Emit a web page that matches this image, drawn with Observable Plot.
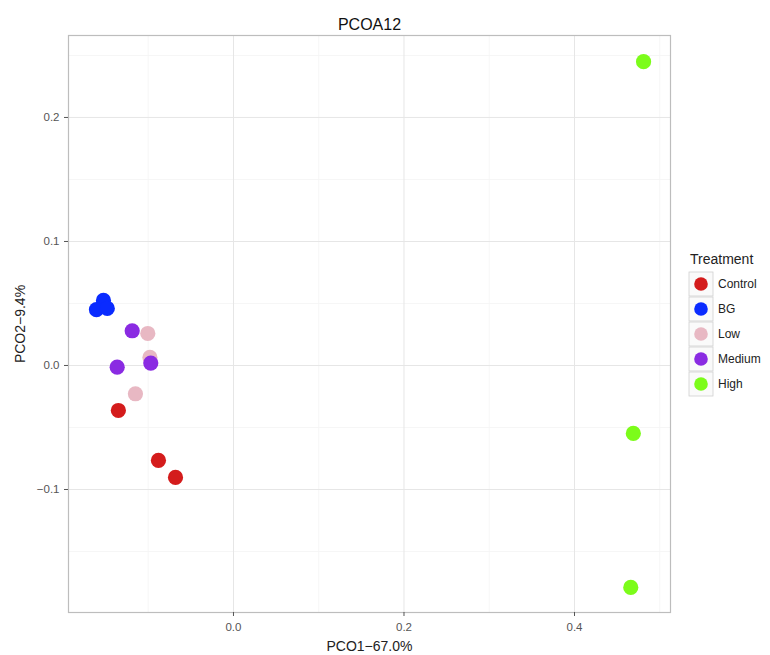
<!DOCTYPE html>
<html>
<head>
<meta charset="utf-8">
<script src="https://cdn.jsdelivr.net/npm/d3@7"></script>
<script src="https://cdn.jsdelivr.net/npm/@observablehq/plot@0.6"></script>
<style>
  html, body { margin: 0; padding: 0; background: #fff; }
  #chart { width: 770px; height: 655px; }
</style>
</head>
<body>
<div id="chart"></div>
<script>
// ---- data ----
const groups = ["Control", "BG", "Low", "Medium", "High"];
const groupColors = ["#d41c1c", "#0a2bff", "#e8b8c3", "#8a2be2", "#7cfc1a"];
const pointGroup = ["Control","Control","Control","BG","BG","BG","Low","Low","Low","Medium","Medium","Medium","High","High","High"];
const pco1 = [-0.135, -0.088, -0.068, -0.1525, -0.1607, -0.148, -0.1005, -0.115, -0.098, -0.1188, -0.1364, -0.097, 0.481, 0.469, 0.466];
const pco2 = [-0.0363, -0.0766, -0.0903, 0.0525, 0.045, 0.046, 0.0258, -0.0228, 0.0065, 0.028, -0.0014, 0.0019, 0.245, -0.0548, -0.179];
const xMajor = [0, 0.2, 0.4];
const xMinor = [-0.1, 0.1, 0.3, 0.5];
const yMajor = [-0.1, 0, 0.1, 0.2];
const yMinor = [-0.15, -0.05, 0.05, 0.15, 0.25];
const titleText = "PCOA12";
const xLabel = "PCO1\u221267.0%";
const yLabel = "PCO2\u22129.4%";
const legendTitle = "Treatment";

const points = pco1.map((x, i) => ({x, y: pco2[i], group: pointGroup[i]}));
const font = "'Liberation Sans', Arial, Helvetica, sans-serif";

const plot = Plot.plot({
  width: 770,
  height: 655,
  marginLeft: 68,
  marginRight: 100,
  marginTop: 35,
  marginBottom: 43,
  style: {fontFamily: font, background: "#fff"},
  x: {domain: [-0.1935, 0.5126], inset: 0},
  y: {domain: [-0.1992, 0.2661], inset: 0},
  color: {domain: groups, range: groupColors},
  marks: [
    Plot.gridX(xMinor, {stroke: "#f4f4f4", strokeOpacity: 1, strokeWidth: 0.8}),
    Plot.gridY(yMinor, {stroke: "#f4f4f4", strokeOpacity: 1, strokeWidth: 0.8}),
    Plot.gridX(xMajor, {stroke: "#e6e6e6", strokeOpacity: 1, strokeWidth: 1}),
    Plot.gridY(yMajor, {stroke: "#e6e6e6", strokeOpacity: 1, strokeWidth: 1}),
    Plot.frame({stroke: "#bdbdbd", strokeWidth: 1.2}),
    Plot.axisX({ticks: xMajor, tickFormat: d3.format(".1f"), tickSize: 4, tickPadding: 6,
      stroke: "#555", fill: "#555", fontSize: 11.5,
      label: xLabel, labelAnchor: "center", labelArrow: "none", labelOffset: 38}),
    Plot.axisY({ticks: yMajor, tickFormat: d3.format(".1f"), tickSize: 4, tickPadding: 5,
      stroke: "#555", fill: "#555", fontSize: 11.5,
      label: yLabel, labelAnchor: "center", labelArrow: "none", labelOffset: 53}),
    Plot.dot(points, {x: "x", y: "y", fill: "group", r: 7.6, stroke: "none"}),
    Plot.text([titleText], {frameAnchor: "top", dy: -17, fontSize: 16, fill: "#111"})
  ]
});
document.getElementById("chart").appendChild(plot);

// style axis labels (Plot renders them as part of axis marks)
const svg = d3.select(plot);
svg.selectAll("g[aria-label='x-axis label'] text, g[aria-label='y-axis label'] text")
  .attr("font-size", 14).attr("fill", "#222");

// ---- legend inside the SVG ----
const lg = svg.append("g").attr("font-family", font).attr("text-anchor", "start");
const lx = 689, ly = 272, box = 25;
lg.append("text").attr("x", lx + 1).attr("y", ly - 8).attr("text-anchor", "start")
  .attr("font-size", 14).attr("fill", "#222").text(legendTitle);
groups.forEach((g, i) => {
  const y0 = ly + i * box;
  lg.append("rect").attr("x", lx).attr("y", y0).attr("width", box - 1).attr("height", box - 1)
    .attr("fill", "#fafafa").attr("stroke", "#d0d0d0").attr("stroke-width", 0.8);
  lg.append("circle").attr("cx", lx + (box - 1) / 2).attr("cy", y0 + (box - 1) / 2).attr("r", 6.8)
    .attr("fill", groupColors[i]);
  lg.append("text").attr("x", lx + box + 4).attr("y", y0 + (box - 1) / 2).attr("dy", "0.35em")
    .attr("text-anchor", "start").attr("font-size", 12).attr("fill", "#222").text(g);
});
</script>
</body>
</html>
